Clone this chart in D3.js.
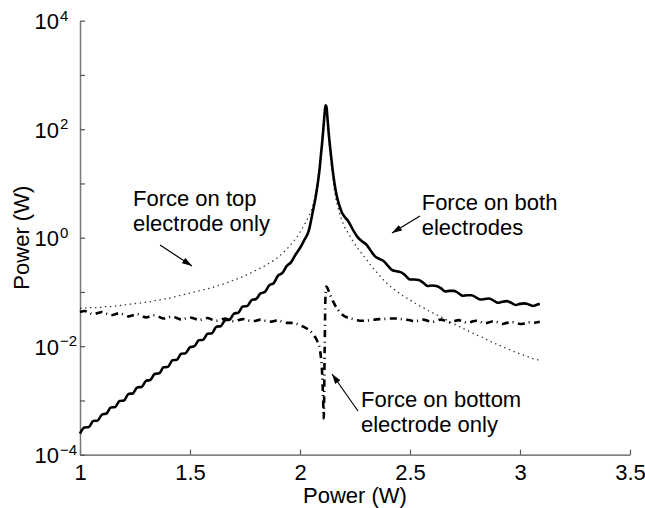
<!DOCTYPE html>
<html>
<head>
<meta charset="utf-8">
<script src="https://cdn.jsdelivr.net/npm/d3@7"></script>
<style>
  body { margin: 0; background: #fff; }
  svg { display: block; }
  text { font-family: "Liberation Sans", Arial, Helvetica, sans-serif; fill: #000; }
</style>
</head>
<body>
<svg id="chart" width="645" height="508"></svg>
<script>
// Sweep values on the x axis (shared by all three curves)
const xs = [
  1.00,1.02,1.04,1.06,1.08,1.10,1.12,1.14,1.16,1.18,
  1.20,1.22,1.24,1.26,1.28,1.30,1.32,1.34,1.36,1.38,
  1.40,1.42,1.44,1.46,1.48,1.50,1.52,1.54,1.56,1.58,
  1.60,1.62,1.64,1.66,1.68,1.70,1.72,1.74,1.76,1.78,
  1.80,1.82,1.84,1.86,1.88,1.90,1.92,1.94,1.96,1.98,
  2.00,2.02,2.04,
  2.06,2.07,2.08,2.09,2.095,2.10,2.105,2.108,2.112,2.116,
  2.12,2.125,2.13,2.14,2.15,2.16,2.17,2.18,2.19,
  2.20,2.22,2.24,2.26,2.28,2.30,2.32,2.34,2.36,2.38,
  2.40,2.42,2.44,2.46,2.48,2.50,2.52,2.54,2.56,2.58,
  2.60,2.62,2.64,2.66,2.68,2.70,2.72,2.74,2.76,2.78,
  2.80,2.82,2.84,2.86,2.88,2.90,2.92,2.94,2.96,2.98,
  3.00,3.02,3.04,3.06,3.08,3.09
];

// log10 of power (W) for each curve
const bothLog = [
  -3.61,-3.50,-3.49,-3.38,-3.37,-3.26,-3.24,-3.13,-3.12,-3.01,
  -3.00,-2.88,-2.87,-2.76,-2.75,-2.64,-2.62,-2.51,-2.50,-2.39,
  -2.38,-2.26,-2.25,-2.14,-2.13,-2.02,-2.00,-1.89,-1.88,-1.77,
  -1.76,-1.64,-1.63,-1.52,-1.51,-1.40,-1.38,-1.27,-1.26,-1.15,
  -1.13,-1.03,-1.00,-0.88,-0.84,-0.70,-0.65,-0.52,-0.45,-0.31,
  -0.19,-0.04,0.13,
  0.52,0.72,0.98,1.30,1.52,1.72,1.95,2.10,2.30,2.44,
  2.42,2.20,1.95,1.55,1.20,0.92,0.72,0.58,0.47,
  0.40,0.30,0.15,0.02,-0.06,-0.12,-0.23,-0.34,-0.39,-0.43,
  -0.52,-0.60,-0.62,-0.64,-0.70,-0.77,-0.77,-0.78,-0.83,-0.89,
  -0.88,-0.89,-0.93,-0.99,-0.98,-0.98,-1.02,-1.07,-1.06,-1.06,
  -1.10,-1.14,-1.13,-1.12,-1.16,-1.20,-1.18,-1.17,-1.20,-1.24,
  -1.22,-1.21,-1.23,-1.26,-1.23,-1.22
];

const topLog = [
  -1.30,-1.30,-1.29,-1.29,-1.29,-1.28,-1.27,-1.27,-1.26,-1.25,
  -1.24,-1.23,-1.22,-1.21,-1.20,-1.19,-1.18,-1.16,-1.15,-1.13,
  -1.12,-1.10,-1.08,-1.06,-1.04,-1.02,-1.00,-0.98,-0.96,-0.94,
  -0.92,-0.89,-0.87,-0.84,-0.81,-0.78,-0.75,-0.72,-0.68,-0.64,
  -0.60,-0.56,-0.52,-0.47,-0.42,-0.36,-0.29,-0.21,-0.12,-0.02,
  0.10,0.24,0.40,
  0.62,0.80,1.05,1.36,1.56,1.78,2.00,2.14,2.32,2.44,
  2.40,2.15,1.88,1.45,1.08,0.78,0.60,0.45,0.33,
  0.22,0.08,-0.06,-0.18,-0.29,-0.39,-0.50,-0.60,-0.69,-0.78,
  -0.86,-0.93,-0.99,-1.05,-1.10,-1.15,-1.20,-1.25,-1.29,-1.34,
  -1.38,-1.42,-1.46,-1.50,-1.55,-1.59,-1.63,-1.67,-1.71,-1.75,
  -1.79,-1.82,-1.86,-1.90,-1.94,-1.97,-2.01,-2.04,-2.08,-2.11,
  -2.14,-2.17,-2.20,-2.23,-2.25,-2.26
];

const bottomLog = [
  -1.37,-1.35,-1.38,-1.41,-1.39,-1.37,-1.40,-1.43,-1.41,-1.39,
  -1.42,-1.45,-1.43,-1.41,-1.44,-1.47,-1.45,-1.43,-1.46,-1.49,
  -1.47,-1.45,-1.48,-1.51,-1.49,-1.47,-1.49,-1.52,-1.50,-1.48,
  -1.51,-1.53,-1.51,-1.49,-1.52,-1.54,-1.52,-1.50,-1.52,-1.54,
  -1.53,-1.51,-1.53,-1.55,-1.54,-1.52,-1.55,-1.57,-1.57,-1.58,
  -1.61,-1.65,-1.70,
  -1.78,-1.84,-1.92,-2.05,-2.20,-2.45,-2.95,-3.33,-2.10,-1.05,
  -0.90,-0.93,-0.98,-1.08,-1.17,-1.25,-1.31,-1.37,-1.41,
  -1.44,-1.48,-1.50,-1.52,-1.53,-1.53,-1.52,-1.51,-1.50,-1.50,
  -1.49,-1.49,-1.49,-1.50,-1.51,-1.52,-1.54,-1.53,-1.51,-1.53,
  -1.55,-1.53,-1.51,-1.53,-1.56,-1.54,-1.52,-1.54,-1.57,-1.55,
  -1.53,-1.55,-1.58,-1.56,-1.54,-1.56,-1.59,-1.57,-1.55,-1.57,
  -1.59,-1.58,-1.56,-1.57,-1.56,-1.55
];

// Axis ticks
const xTicks = [1, 1.5, 2, 2.5, 3, 3.5];
const yTickExps = [-4, -3, -2, -1, 0, 1, 2, 3, 4];
const yLabelExps = [-4, -2, 0, 2, 4];

const svg = d3.select("#chart");
const plotLeft = 80, plotRight = 630, plotTop = 20.7, plotBottom = 454.7;
const fontSize = 22;

const x = d3.scaleLinear().domain([1, 3.5]).range([plotLeft, plotRight]);
const y = d3.scaleLog().domain([1e-4, 1e4]).range([plotBottom, plotTop]);

// Arrow head
svg.append("defs").append("marker")
  .attr("id", "arrow")
  .attr("markerUnits", "userSpaceOnUse")
  .attr("markerWidth", 12).attr("markerHeight", 8)
  .attr("refX", 10).attr("refY", 4)
  .attr("orient", "auto")
  .append("path")
  .attr("d", "M0,0.8 L10,4 L0,7.2 Z")
  .attr("fill", "#000");

// Axes
const xAxis = d3.axisBottom(x)
  .tickValues(xTicks)
  .tickSizeInner(-5).tickSizeOuter(0)
  .tickPadding(10)
  .tickFormat(d => String(d));
const gx = svg.append("g").attr("transform", `translate(0,${plotBottom})`).call(xAxis);
gx.select(".domain").attr("stroke", "#555").attr("stroke-width", 1.2);
gx.selectAll(".tick line").attr("stroke", "#555").attr("stroke-width", 1.2);
gx.selectAll(".tick text").attr("font-size", fontSize)
  .attr("font-family", "Liberation Sans, Arial, sans-serif").attr("fill", "#000");

const yAxis = d3.axisLeft(y)
  .tickValues(yTickExps.map(e => Math.pow(10, e)))
  .tickSizeInner(-5).tickSizeOuter(0)
  .tickFormat(() => "");
const gy = svg.append("g").attr("transform", `translate(${plotLeft},0)`).call(yAxis);
gy.select(".domain").attr("stroke", "#777").attr("stroke-width", 1.5);
gy.selectAll(".tick line").attr("stroke", "#555").attr("stroke-width", 1.2);

// y tick labels as 10^n
const yl = svg.append("g");
yLabelExps.forEach(e => {
  const ty = y(Math.pow(10, e));
  yl.append("text").attr("x", 59).attr("y", ty + 8.6)
    .attr("text-anchor", "end").attr("font-size", fontSize).text("10");
  yl.append("text").attr("x", 60).attr("y", ty)
    .attr("text-anchor", "start").attr("font-size", 15)
    .text(e < 0 ? "\u2212" + Math.abs(e) : String(e));
});

// Axis titles
svg.append("text").attr("x", (plotLeft + plotRight) / 2).attr("y", 503)
  .attr("text-anchor", "middle").attr("font-size", fontSize).text("Power (W)");
svg.append("text").attr("transform", `translate(29,${(plotTop + plotBottom) / 2}) rotate(-90)`)
  .attr("text-anchor", "middle").attr("font-size", fontSize).text("Power (W)");

// Curves
const line = d3.line()
  .x(d => x(d[0]))
  .y(d => y(Math.pow(10, d[1])))
  .curve(d3.curveMonotoneX);

const series = [
  { vals: topLog, stroke: "#333", width: 1.3, dash: "1.4,3.6" },
  { vals: bottomLog, stroke: "#000", width: 2.6, dash: "7,4,1,4.5" },
  { vals: bothLog, stroke: "#000", width: 2.6, dash: null }
];
series.forEach(s => {
  svg.append("path")
    .datum(xs.map((xv, i) => [xv, s.vals[i]]))
    .attr("fill", "none")
    .attr("stroke", s.stroke)
    .attr("stroke-width", s.width)
    .attr("stroke-dasharray", s.dash)
    .attr("stroke-linejoin", "round")
    .attr("d", line);
});

// Annotations
function note(lines, tx, ty, from, to) {
  const t = svg.append("text").attr("font-size", fontSize);
  lines.forEach((s, i) => t.append("tspan").attr("x", tx).attr("y", ty + i * 25).text(s));
  svg.append("line")
    .attr("x1", from[0]).attr("y1", from[1]).attr("x2", to[0]).attr("y2", to[1])
    .attr("stroke", "#000").attr("stroke-width", 1.2)
    .attr("marker-end", "url(#arrow)");
}
note(["Force on top", "electrode only"], 133, 206, [160, 245], [192, 266]);
note(["Force on both", "electrodes"], 421.7, 210, [420, 216], [392, 233]);
note(["Force on bottom", "electrode only"], 361, 407, [358, 411], [332, 374]);
</script>
</body>
</html>
